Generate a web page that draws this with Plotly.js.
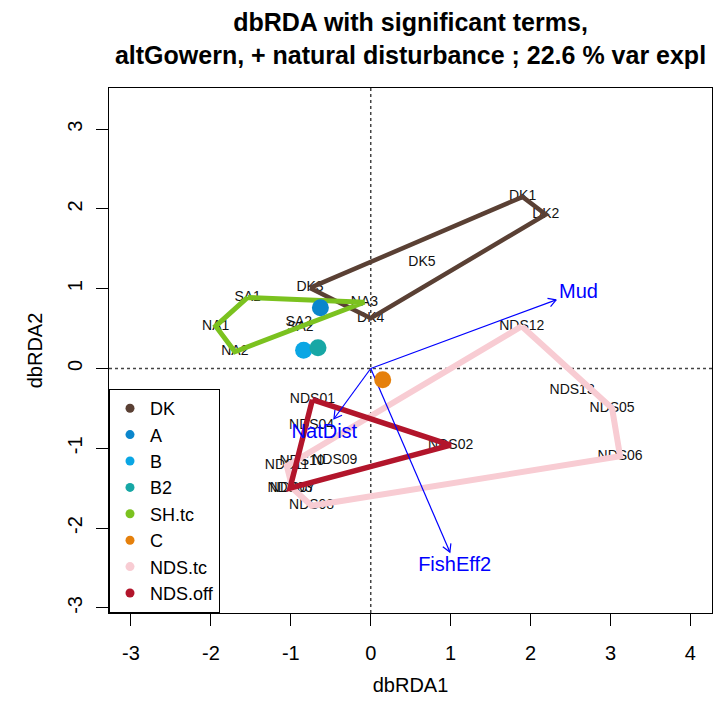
<!DOCTYPE html>
<html>
<head>
<meta charset="utf-8">
<script src="https://cdn.plot.ly/plotly-3.0.1.min.js"></script>
<style>html,body{margin:0;padding:0;background:#fff;}#chart{width:714px;height:715px;}</style>
</head>
<body>
<div id="chart"></div>
<script>
// ---- site scores (labels) ----
const siteNames = ['DK1','DK2','DK3','DK4','DK5','SA1','SA2','SA2','NA1','NA2','NA3',
  'NDS01','NDS02','NDS03','NDS04','NDS05','NDS06','NDS07','NDS08','NDS09','NDS10','NDS11','NDS12','NDS13'];
const siteX = [1.90, 2.19, -0.76, 0.00, 0.64, -1.54, -0.90, -0.88, -1.94, -1.70, -0.08,
  -0.73, 1.00, -1.01, -0.74, 3.02, 3.12, -0.98, -0.74, -0.45, -0.86, -1.05, 1.89, 2.52];
const siteY = [2.15, 1.93, 1.01, 0.63, 1.33, 0.89, 0.58, 0.52, 0.53, 0.21, 0.83,
  -0.39, -0.96, -1.50, -0.71, -0.50, -1.10, -1.50, -1.72, -1.15, -1.16, -1.22, 0.53, -0.27];

// ---- hull groups (vertex order) ----
const hullDK = ['DK3','DK1','DK2','DK4','DK3'];
const hullSH = ['SA1','NA3','NA2','NA1','SA1'];
const hullNDStc = ['NDS12','NDS05','NDS06','NDS08','NDS07','NDS11','NDS12'];
const hullNDSoff = ['NDS01','NDS02','NDS03','NDS01'];

// ---- single-site groups (points) ----
const ptNames = ['A','B','B2','C'];
const ptX = [-0.63, -0.84, -0.66, 0.15];
const ptY = [0.76, 0.23, 0.26, -0.14];

// ---- biplot arrows ----
const arrowNames = ['Mud','NatDist','FishEff2'];
const arrowX = [2.32, -0.46, 0.99];
const arrowY = [0.86, -0.63, -2.30];
const arrowLabX = [2.60, -0.58, 1.05];
const arrowLabY = [0.94, -0.81, -2.47];

// ---- legend ----
const legendNames = ['DK','A','B','B2','SH.tc','C','NDS.tc','NDS.off'];
const legendColors = ['#5a4034','#0a86cc','#0aa6e4','#17a7a5','#7bc21f','#e5800c','#f8ccd3','#b2152b'];

const xTicks = [-3,-2,-1,0,1,2,3,4];
const yTicks = [-3,-2,-1,0,1,2,3];

const FONT = 'Liberation Sans, Arial, Helvetica, sans-serif';
const colorOf = n => legendColors[legendNames.indexOf(n)];

function hullTrace(names, color, width) {
  const xs = [], ys = [];
  names.forEach(n => { const i = siteNames.indexOf(n); xs.push(siteX[i]); ys.push(siteY[i]); });
  return {type:'scatter', mode:'lines', x:xs, y:ys, showlegend:false, hoverinfo:'skip',
    line:{color:color, width:width}};
}

const traces = [];
// site labels
traces.push({type:'scatter', mode:'text', x:siteX, y:siteY, text:siteNames,
  textposition:'middle center', textfont:{family:FONT, size:14, color:'#111'},
  showlegend:false, hoverinfo:'skip'});
// hulls
traces.push(hullTrace(hullNDStc, colorOf('NDS.tc'), 6));
traces.push(hullTrace(hullNDSoff, colorOf('NDS.off'), 5.5));
traces.push(hullTrace(hullDK, colorOf('DK'), 4.5));
traces.push(hullTrace(hullSH, colorOf('SH.tc'), 5));

// arrows with R-style open heads
const ax = [], ay = [];
const headLen = 0.11, headAng = Math.PI/6;
for (let i = 0; i < arrowX.length; i++) {
  const tx = arrowX[i], ty = arrowY[i];
  const ang = Math.atan2(ty, tx);
  ax.push(0, tx, null,
    tx - headLen*Math.cos(ang - headAng), tx, tx - headLen*Math.cos(ang + headAng), null);
  ay.push(0, ty, null,
    ty - headLen*Math.sin(ang - headAng), ty, ty - headLen*Math.sin(ang + headAng), null);
}
traces.push({type:'scatter', mode:'lines', x:ax, y:ay, line:{color:'#0000ff', width:1.2},
  showlegend:false, hoverinfo:'skip'});
traces.push({type:'scatter', mode:'text', x:arrowLabX, y:arrowLabY, text:arrowNames,
  textposition:'middle center', textfont:{family:FONT, size:20, color:'#0000ff'},
  showlegend:false, hoverinfo:'skip'});

// point groups
traces.push({type:'scatter', mode:'markers', x:ptX, y:ptY, showlegend:false, hoverinfo:'skip',
  marker:{size:17, color:ptNames.map(colorOf), line:{width:0}}});

// legend entries
legendNames.forEach((n, i) => {
  traces.push({type:'scatter', mode:'markers', x:[null], y:[null], name:n,
    marker:{size:9, color:legendColors[i]}, showlegend:true});
});

const layout = {
  width:714, height:715,
  margin:{l:109, r:2, t:88, b:102, pad:0},
  paper_bgcolor:'#fff', plot_bgcolor:'#fff',
  font:{family:FONT, color:'#000'},
  title:{text:'dbRDA with significant terms,<br>altGowern, + natural disturbance ; 22.6 % var expl',
    font:{family:FONT, size:25, weight:'bold', color:'#000'},
    x:0.5, xref:'paper', xanchor:'center', y:1-31/715, yref:'container', yanchor:'middle'},
  xaxis:{range:[-3.275, 4.27], tickvals:xTicks, ticktext:xTicks.map(String), ticks:'outside',
    ticklen:12, tickwidth:1, tickcolor:'#000', showline:true, mirror:true, linecolor:'#000', linewidth:1,
    showgrid:false, zeroline:false, tickfont:{family:FONT, size:20, color:'#000'}, ticklabelstandoff:10,
    title:{text:'dbRDA1', font:{family:FONT, size:20, color:'#000'}, standoff:14}},
  yaxis:{range:[-3.064, 3.515], tickvals:yTicks, ticktext:yTicks.map(String), ticks:'outside',
    ticklen:12, tickwidth:1, tickcolor:'#000', showline:true, mirror:true, linecolor:'#000', linewidth:1,
    showgrid:false, zeroline:false, tickangle:-90, tickfont:{family:FONT, size:20, color:'#000'}, ticklabelstandoff:6,
    title:{text:'dbRDA2', font:{family:FONT, size:20, color:'#000'}, standoff:16}},
  shapes:[
    {type:'line', xref:'x', yref:'paper', x0:0, x1:0, y0:0, y1:1, line:{color:'#444', width:1.5, dash:'dot'}, layer:'below'},
    {type:'line', xref:'paper', yref:'y', x0:0, x1:1, y0:0, y1:0, line:{color:'#444', width:1.5, dash:'dot'}, layer:'below'}
  ],
  legend:{x:0, y:0, xanchor:'left', yanchor:'bottom', bordercolor:'#000', borderwidth:1,
    bgcolor:'#fff', font:{family:FONT, size:18, color:'#000'}, tracegroupgap:0},
  showlegend:true
};

Plotly.newPlot('chart', traces, layout, {displayModeBar:false, staticPlot:true});
</script>
</body>
</html>
